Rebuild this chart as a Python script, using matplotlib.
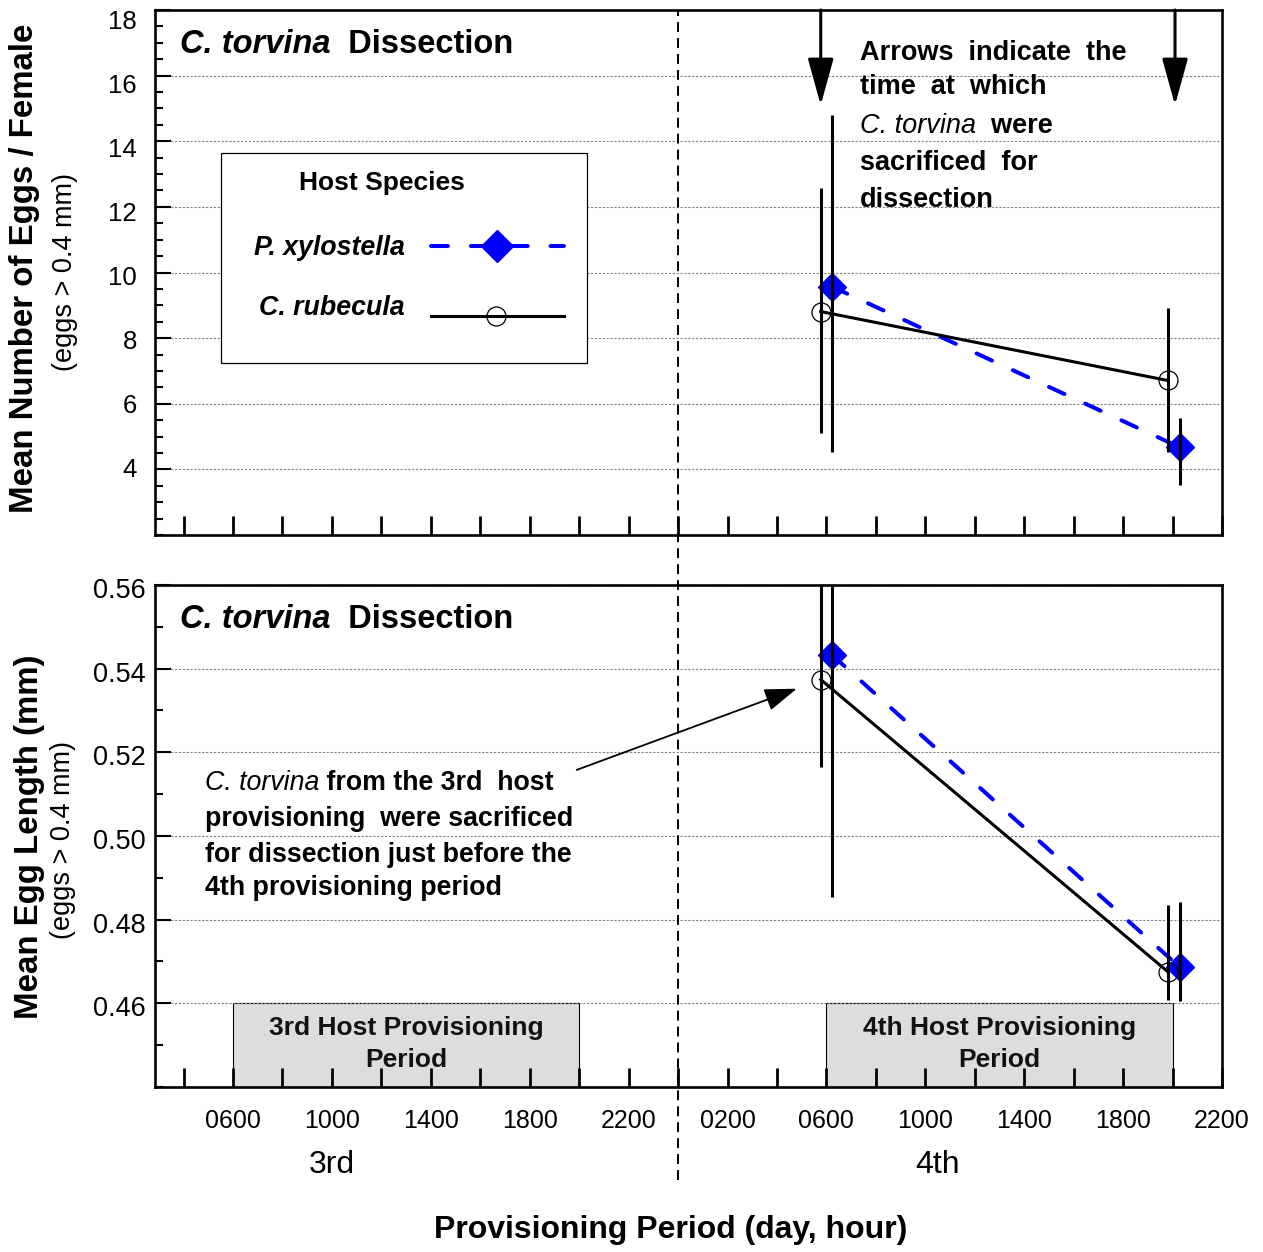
import matplotlib
matplotlib.use("Agg")
import matplotlib.pyplot as plt
import numpy as np
from matplotlib.patches import Rectangle
from matplotlib.lines import Line2D
from matplotlib.transforms import blended_transform_factory, ScaledTranslation

plt.rcParams['font.family'] = ['Liberation Sans', 'DejaVu Sans']

# ---------------- data ----------------
# x = hours since 0000 of the 3rd provisioning day
xtick_pos = [6, 10, 14, 18, 22, 26, 30, 34, 38, 42, 46]
xtick_labels = ["0600", "1000", "1400", "1800", "2200",
                "0200", "0600", "1000", "1400", "1800", "2200"]
period_names = ["3rd", "4th"]
period_name_x = [10, 34.5]
host_species = ["P. xylostella", "C. rubecula"]

px_time = [30.22, 44.3]
cr_time = [29.77, 43.8]

px_eggs = [9.57, 4.67]
px_eggs_lo = [4.52, 3.53]
px_eggs_hi = [14.80, 5.58]
cr_eggs = [8.81, 6.71]
cr_eggs_lo = [5.11, 4.52]
cr_eggs_hi = [12.59, 8.93]

px_len = [0.5433, 0.4686]
px_len_lo = [0.4855, 0.4605]
px_len_hi = [0.601, 0.4843]
cr_len = [0.5374, 0.4676]
cr_len_lo = [0.5164, 0.4608]
cr_len_hi = [0.561, 0.4836]

provision_periods = [(6, 20), (30, 44)]
provision_lines = [["3rd Host Provisioning", "Period"],
                   ["4th Host Provisioning", "Period"]]
dissection_times = [29.77, 44.1]

# ---------------- figure ----------------
W, H = 1263, 1252
fig = plt.figure(figsize=(W / 100, H / 100), dpi=100)


def fr(x0, y0, x1, y1):
    return [x0 / W, 1 - y1 / H, (x1 - x0) / W, (y1 - y0) / H]


ax1 = fig.add_axes(fr(155, 10, 1222, 535))
ax2 = fig.add_axes(fr(155, 585, 1222, 1087))

BLUE = '#0000ff'
DASH = (0, (4.2, 5.7))

for ax in (ax1, ax2):
    ax.set_xlim(2.845, 46)
    for s in ax.spines.values():
        s.set_linewidth(1.9)
    ax.tick_params(axis='y', which='major', direction='in', length=11.5, width=1.5,
                   left=True, right=False, labelsize=18.5)
    ax.tick_params(axis='y', which='minor', direction='in', length=5.8, width=1.5,
                   left=True, right=False)
    ax.grid(axis='y', which='major', color='#808080', linestyle=(0, (2, 1.5)),
            linewidth=0.8)

# x ticks every 2 h; labels only at the labelled hours
all_ticks = np.arange(4, 47, 2)
lab_map = dict(zip(xtick_pos, xtick_labels))
ax1.set_xticks(all_ticks)
ax1.tick_params(axis='x', which='major', direction='in', length=14, width=2,
                bottom=True, top=False, labelbottom=False)
ax2.set_xticks(all_ticks, labels=[lab_map.get(int(t), "") for t in all_ticks])
ax2.tick_params(axis='x', which='major', direction='in', length=14, width=2,
                bottom=True, top=False, labelbottom=True, labelsize=18, pad=16)

# ---- top panel ----
ax1.set_ylim(2, 18)
yt1 = np.arange(4, 18.1, 2)
ax1.set_yticks(yt1)
ax1.set_yticklabels([f"{int(v)}" for v in yt1])
ax1.set_yticks(np.arange(2, 18.01, 0.5), minor=True)
ax1.tick_params(axis='y', which='major', pad=13)
for v, tk in zip(yt1, ax1.yaxis.get_major_ticks()):
    dy = -(v - 6) * 0.8 / 100
    tk.label1.set_transform(tk.label1.get_transform() +
                            ScaledTranslation(0, dy, fig.dpi_scale_trans))

ax1.plot(px_time, px_eggs, color=BLUE, ls=DASH, lw=2.9, dash_capstyle='round',
         marker='D', ms=14, mfc=BLUE, mec=BLUE, zorder=3)
ax1.plot(cr_time, cr_eggs, color='k', lw=2.2, marker='o', ms=13.7, mfc='none',
         mec='k', mew=0.9, zorder=3)
ax1.vlines(px_time, px_eggs_lo, px_eggs_hi, colors='k', lw=2.2, zorder=4)
ax1.vlines(cr_time, cr_eggs_lo, cr_eggs_hi, colors='k', lw=2.2, zorder=4)

for xt in dissection_times:
    ax1.annotate("", xy=(xt, 15.1), xytext=(xt, 18),
                 arrowprops=dict(arrowstyle="-|>,head_length=2.9,head_width=0.8",
                                 mutation_scale=10, lw=2.2, color='k',
                                 shrinkA=0, shrinkB=0), zorder=5)

# ---- bottom panel ----
ax2.set_ylim(0.44, 0.56)
yt2 = [0.46, 0.48, 0.50, 0.52, 0.54, 0.56]
ax2.set_yticks(yt2)
ax2.set_yticklabels([f"{v:.2f}" for v in yt2])
ax2.set_yticks(np.arange(0.44, 0.5601, 0.01), minor=True)
ax2.tick_params(axis='y', which='major', pad=7, labelsize=19.5)
for tk in ax2.yaxis.get_major_ticks():
    tk.label1.set_transform(tk.label1.get_transform() +
                            ScaledTranslation(0, -0.03, fig.dpi_scale_trans))

ax2.plot(px_time, px_len, color=BLUE, ls=DASH, lw=2.9, dash_capstyle='round',
         marker='D', ms=14, mfc=BLUE, mec=BLUE, zorder=3)
ax2.plot(cr_time, cr_len, color='k', lw=2.2, marker='o', ms=13.7, mfc='none',
         mec='k', mew=0.9, zorder=3)
ax2.vlines(px_time, px_len_lo, px_len_hi, colors='k', lw=2.2, zorder=4)
ax2.vlines(cr_time, cr_len_lo, cr_len_hi, colors='k', lw=2.2, zorder=4)

for (a, b), lines in zip(provision_periods, provision_lines):
    ax2.add_patch(Rectangle((a, 0.44), b - a, 0.02, facecolor='#dddddd',
                            edgecolor='k', lw=0.8, zorder=1))
    ax2.text((a + b) / 2, 0.4524, lines[0], ha='center', va='baseline',
             fontsize=19, fontweight='bold', color='#111111', zorder=1.2)
    ax2.text((a + b) / 2, 0.4448, lines[1], ha='center', va='baseline',
             fontsize=19, fontweight='bold', color='#111111', zorder=1.2)

ax2.annotate("", xy=(28.8, 0.5352), xytext=(19.9, 0.5158),
             arrowprops=dict(arrowstyle="-|>,head_length=2.0,head_width=0.7",
                             mutation_scale=10, lw=1.3, color='k',
                             shrinkA=0, shrinkB=0), zorder=5)

# ---- chained mixed-style text helper ----
renderer = fig.canvas.get_renderer()


def chain(ax, x, y, parts, size):
    t0 = ax.text(x, y, parts[0][0], transform=ax.transAxes, fontsize=size,
                 va='baseline', ha='left', **parts[0][1])
    off = t0.get_window_extent(renderer=renderer).width
    for s, kw in parts[1:]:
        tr = ax.transAxes + ScaledTranslation(off / fig.dpi, 0, fig.dpi_scale_trans)
        t = ax.text(x, y, s, transform=tr, fontsize=size, va='baseline',
                    ha='left', **kw)
        off += t.get_window_extent(renderer=renderer).width


BI = dict(fontstyle='italic', fontweight='bold')
IT = dict(fontstyle='italic', fontweight='normal')
BD = dict(fontweight='bold')

# titles
chain(ax1, 0.0234, 0.9175, [("C. torvina", BI), ("  Dissection", BD)], 23.5)
chain(ax2, 0.0234, 0.9137, [("C. torvina", BI), ("  Dissection", BD)], 23.5)

# arrow note
chain(ax1, 0.661, 0.9048, [("Arrows  indicate  the", BD)], 19.5)
chain(ax1, 0.661, 0.8394, [("time  at  which", BD)], 19.5)
chain(ax1, 0.661, 0.7663, [("C. torvina", IT), ("  were", BD)], 19.5)
chain(ax1, 0.661, 0.6952, [("sacrificed  for", BD)], 19.5)
chain(ax1, 0.661, 0.6254, [("dissection", BD)], 19.5)

# bottom note
chain(ax2, 0.0469, 0.5916, [("C. torvina", IT), (" from the 3rd  host", BD)], 19.3)
chain(ax2, 0.0469, 0.5199, [("provisioning  were sacrificed", BD)], 19.3)
chain(ax2, 0.0469, 0.4482, [("for dissection just before the", BD)], 19.3)
chain(ax2, 0.0469, 0.3825, [("4th provisioning period", BD)], 19.3)

# ---- legend (drawn in axes fraction) ----
ax1.add_patch(Rectangle((0.0619, 0.3276), 0.4049 - 0.0619, 0.7276 - 0.3276,
                        transform=ax1.transAxes, facecolor='white',
                        edgecolor='k', lw=0.9, zorder=6))
ax1.text(0.2127, 0.6571, "Host Species", transform=ax1.transAxes, ha='center',
         va='baseline', fontsize=19, fontweight='bold', zorder=7)
ax1.text(0.2343, 0.5333, host_species[0], transform=ax1.transAxes, ha='right',
         va='baseline', fontsize=19.3, zorder=7, **BI)
ax1.text(0.2343, 0.419, host_species[1], transform=ax1.transAxes, ha='right',
         va='baseline', fontsize=19.3, zorder=7, **BI)
ax1.add_line(Line2D([0.2587, 0.3834], [0.5505, 0.5505], transform=ax1.transAxes,
                    color=BLUE, ls=DASH, lw=2.9, dash_capstyle='round', zorder=7))
ax1.add_line(Line2D([0.3201], [0.5505], transform=ax1.transAxes, ls='none',
                    marker='D', ms=16, mfc=BLUE, mec=BLUE, zorder=8))
ax1.add_line(Line2D([0.2587, 0.3834], [0.4177, 0.4177], transform=ax1.transAxes,
                    color='k', lw=2.2, zorder=7))
ax1.add_line(Line2D([0.3193], [0.4177], transform=ax1.transAxes, ls='none',
                    marker='o', ms=13.7, mfc='none', mec='k', mew=0.9, zorder=8))

# ---- dividing dashed line between provisioning days ----
div = Line2D([24, 24], [1 - 1180 / H, 1 - 10 / H],
             transform=blended_transform_factory(ax1.transData, fig.transFigure),
             color='k', lw=1.4, ls=(0, (5.1, 3.1)), clip_on=False, zorder=3)
fig.add_artist(div)

# ---- period names and axis labels ----
bt = blended_transform_factory(ax2.transData, fig.transFigure)
for name, xp in zip(period_names, period_name_x):
    ax2.text(xp, 1 - 1173 / H, name, transform=bt, ha='center', va='baseline',
             fontsize=23)

fig.text(671 / W, 1 - 1230 / H, "Provisioning Period (day, hour)", ha='center',
         va='center', fontsize=23, fontweight='bold')
fig.text(25 / W, 1 - 268 / H, "Mean Number of Eggs / Female", rotation=90,
         ha='center', va='center', fontsize=23.8, fontweight='bold')
fig.text(65 / W, 1 - 272 / H, "(eggs > 0.4 mm)", rotation=90,
         ha='center', va='center', fontsize=19.5)
fig.text(30 / W, 1 - 837 / H, "Mean Egg Length (mm)", rotation=90,
         ha='center', va='center', fontsize=23.8, fontweight='bold')
fig.text(63 / W, 1 - 840 / H, "(eggs > 0.4 mm)", rotation=90,
         ha='center', va='center', fontsize=19.5)

fig.savefig("out.png", dpi=100)
